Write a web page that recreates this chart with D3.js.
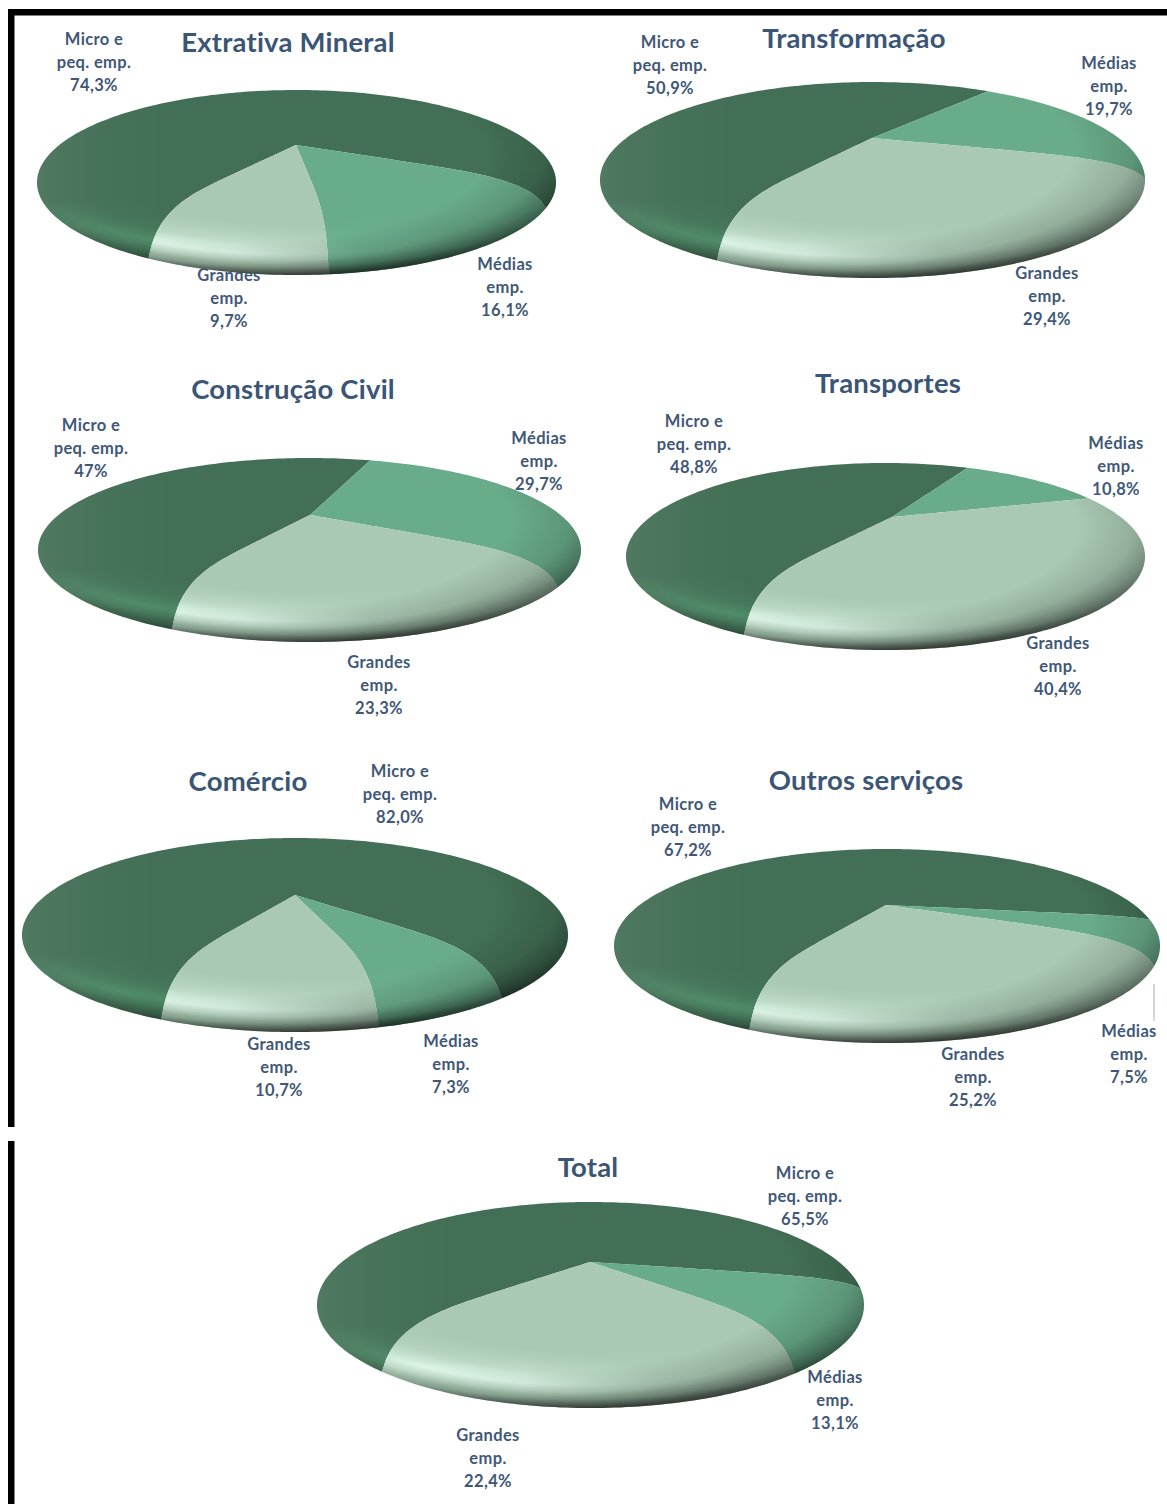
<!DOCTYPE html>
<html lang="pt">
<head>
<meta charset="utf-8">
<title>Participação por porte de empresa</title>
<script src="https://cdn.jsdelivr.net/npm/d3@7/dist/d3.min.js"></script>
<style>
  html, body { margin: 0; background: #fff; }
  svg { display: block; }
  text { font-family: Lato, "Open Sans", sans-serif; font-weight: 700; fill: #3f5878; text-anchor: middle; }
  .title { font-size: 27.5px; fill: #3a5575; letter-spacing: 0.2px; }
  .label { font-size: 16.5px; letter-spacing: 0.35px; }
</style>
</head>
<body>
<svg id="chart" width="1167" height="1504"></svg>
<script>
// Sector titles and the share labels printed beside each pie
const sectors = ["Extrativa Mineral", "Transformação", "Construção Civil", "Transportes", "Comércio", "Outros serviços", "Total"];
const microLabels = ["74,3%", "50,9%", "47%", "48,8%", "82,0%", "67,2%", "65,5%"];
const mediasLabels = ["16,1%", "19,7%", "29,7%", "10,8%", "7,3%", "7,5%", "13,1%"];
const grandesLabels = ["9,7%", "29,4%", "23,3%", "40,4%", "10,7%", "25,2%", "22,4%"];
const sizeNames = [["Micro e", "peq. emp."], ["Médias", "emp."], ["Grandes", "emp."]];

// Layout of each panel: disc bounds, apex, rotation of the first slice, text anchors
const panels = [
  { x0: 37,  x1: 556,  top: 90,   bottom: 275,  ax: 296, ay: 145,  start: -151,   title: [288, 42],  micro: [94, 39],   medias: [505, 264],  grandes: [229, 275], behind: true },
  { x0: 600, x1: 1145, top: 82,   bottom: 278,  ax: 872, ay: 138,  start: -152,   title: [854, 38],  micro: [670, 42],  medias: [1109, 63],  grandes: [1047, 273] },
  { x0: 38,  x1: 581,  top: 458,  bottom: 642,  ax: 310, ay: 515,  start: -154,   title: [293, 389], micro: [91, 425],  medias: [539, 438],  grandes: [379, 662] },
  { x0: 626, x1: 1145, top: 463,  bottom: 650,  ax: 892, ay: 517,  start: -153,   title: [888, 383], micro: [694, 421], medias: [1116, 443], grandes: [1058, 643] },
  { x0: 22,  x1: 568,  top: 838,  bottom: 1032, ax: 295, ay: 895,  start: -156,   title: [248, 781], micro: [400, 771], medias: [451, 1041], grandes: [279, 1044] },
  { x0: 614, x1: 1160, top: 849,  bottom: 1043, ax: 886, ay: 905,  start: -155.5, title: [866, 780], micro: [688, 804], medias: [1129, 1031], grandes: [973, 1054] },
  { x0: 317, x1: 864,  top: 1202, bottom: 1408, ax: 590, ay: 1262, start: -139.5, title: [588, 1167], micro: [805, 1173], medias: [835, 1377], grandes: [488, 1435] }
];

const sliceColors = ["#426f55", "#69ac8a", "#a9c9b3"];
const glowStrength = [0.3, 0.6, 1];   // how strongly the front highlight shows on each slice
const lineStep = 23;
const droop = 20;            // vertical offset between the apex and the plane of the rim

const svg = d3.select("#chart");
const defs = svg.append("defs");
const toNumber = s => parseFloat(s.replace(",", "."));

function addRadial(id, cx, cy, r, stops) {
  const g = defs.append("radialGradient").attr("id", id)
    .attr("cx", cx).attr("cy", cy).attr("r", r)
    .attr("fx", cx).attr("fy", cy);
  stops.forEach(([o, c, a]) => g.append("stop").attr("offset", o).attr("stop-color", c).attr("stop-opacity", a));
}
function addLinear(id, vertical, stops) {
  const g = defs.append("linearGradient").attr("id", id)
    .attr("x1", 0).attr("y1", 0).attr("x2", vertical ? 0 : 1).attr("y2", vertical ? 1 : 0);
  stops.forEach(([o, c, a]) => g.append("stop").attr("offset", o).attr("stop-color", c).attr("stop-opacity", a));
}

// Dark lip around the lower rim, a broad falloff to the lower right, a pale band inside the front edge
addRadial("rimShade", "48%", "38%", "62%", [[0.87, "#000", 0], [0.93, "#000", 0.08], [0.97, "#000", 0.32], [1, "#000", 0.5]]);
addRadial("cornerShade", "38%", "34%", "68%", [[0.72, "#000", 0], [0.88, "#000", 0.13], [1, "#000", 0.42]]);
addRadial("rimGlow", "48%", "38%", "62%", [[0.55, "#dcffe9", 0], [0.72, "#dcffe9", 0.34], [0.82, "#dcffe9", 0.85], [0.88, "#dcffe9", 0.38], [0.92, "#dcffe9", 0]]);
addLinear("glowAcross", false, [[0, "#fff", 1], [0.38, "#fff", 1], [0.62, "#fff", 0.2], [0.8, "#fff", 0]]);
addLinear("glowDown", true, [[0.6, "#fff", 0], [0.8, "#fff", 1]]);
addLinear("leftLight", false, [[0, "#fff", 0.07], [0.14, "#fff", 0.02], [0.25, "#fff", 0]]);
defs.append("mask").attr("id", "glowDownMask").attr("maskContentUnits", "objectBoundingBox")
  .append("rect").attr("width", 1).attr("height", 1).attr("fill", "url(#glowDown)");
defs.append("mask").attr("id", "glowMask").attr("maskContentUnits", "objectBoundingBox")
  .append("rect").attr("width", 1).attr("height", 1).attr("fill", "url(#glowAcross)").attr("mask", "url(#glowDownMask)");

const pieGen = d3.pie().sort(null);
const lineGen = d3.line().x(d => d[0]).y(d => d[1]);

// Screen position of the rim point at a given pie angle, under a perspective tilt
function rimProjector(p) {
  const cx = (p.x0 + p.x1) / 2;
  const E = (p.x1 - p.x0) / 2;
  const d1 = p.ay + droop - p.top, d2 = p.bottom - p.ay - droop;
  const k = (d2 - d1) / (d2 + d1);
  const S = d1 * (1 + k);
  const A = E * Math.sqrt(1 - k * k);
  return a => {
    const u = Math.sin(a), v = -Math.cos(a);
    const w = 1 - k * v;
    return [cx + A * u / w, p.ay + droop + S * v / w];
  };
}

// Radius from apex to rim: straight near the apex, falling away sharply at the front edge
function radiusPoints(p, rim) {
  const dx = rim[0] - p.ax, dy = rim[1] - p.ay;
  const bend = Math.max(0, Math.min(1, dy / 30));
  return d3.range(0, 1.0001, 0.02).map(t => {
    const fall = (1 - bend) * t + bend * (0.6 * t + 0.3 * Math.pow(t, 8) + 0.1 * Math.pow(t, 40));
    return [p.ax + dx * t, p.ay + dy * fall];
  });
}

function wedgePoints(p, rimAt, a0, a1) {
  const n = Math.max(2, Math.ceil(Math.abs(a1 - a0) / 0.02));
  const arc = d3.range(0, n + 1).map(i => rimAt(a0 + (a1 - a0) * i / n));
  return [...radiusPoints(p, arc[0]), ...arc, ...radiusPoints(p, arc[n]).reverse()];
}

function drawLabel(g, anchor, lines) {
  g.selectAll(null).data(lines).join("text")
    .attr("class", "label")
    .attr("x", anchor[0])
    .attr("y", (d, i) => anchor[1] + i * lineStep)
    .attr("dy", "0.36em")
    .text(d => d);
}

const under = svg.append("g");
const pies = svg.append("g");
const over = svg.append("g");

panels.forEach((p, i) => {
  const values = [toNumber(microLabels[i]), toNumber(mediasLabels[i]), toNumber(grandesLabels[i])];
  const start = p.start * Math.PI / 180;
  const arcs = pieGen.startAngle(start).endAngle(start + 2 * Math.PI)(values);
  const rimAt = rimProjector(p);
  const wedgePath = d => lineGen(wedgePoints(p, rimAt, d.startAngle, d.endAngle)) + "Z";

  const g = pies.append("g").style("isolation", "isolate");
  g.selectAll("path.slice").data(arcs).join("path")
    .attr("class", "slice")
    .attr("fill", (d, j) => sliceColors[j])
    .attr("d", wedgePath);

  const outline = lineGen(d3.range(0, 360, 1).map(a => rimAt(a * Math.PI / 180))) + "Z";
  g.append("path").attr("d", outline).attr("fill", "url(#leftLight)");

  // Front highlight, one pass per slice so that each takes its own strength
  arcs.forEach((d, j) => {
    const id = `slice-clip-${i}-${j}`;
    defs.append("clipPath").attr("id", id).append("path").attr("d", wedgePath(d));
    g.append("g").attr("clip-path", `url(#${id})`)
      .style("mix-blend-mode", "overlay")
      .style("opacity", glowStrength[j])
      .append("path").attr("d", outline).attr("fill", "url(#rimGlow)").attr("mask", "url(#glowMask)");
  });

  g.append("path").attr("d", outline).attr("fill", "url(#cornerShade)");
  g.append("path").attr("d", outline).attr("fill", "url(#rimShade)");

  over.append("text").attr("class", "title").attr("x", p.title[0]).attr("y", p.title[1]).attr("dy", "0.36em").text(sectors[i]);
  drawLabel(over, p.micro, [...sizeNames[0], microLabels[i]]);
  drawLabel(over, p.medias, [...sizeNames[1], mediasLabels[i]]);
  drawLabel(p.behind ? under : over, p.grandes, [...sizeNames[2], grandesLabels[i]]);
});

// Leader line of the small "Médias" slice in the services pie
over.append("line").attr("x1", 1154).attr("x2", 1154).attr("y1", 984).attr("y2", 1021)
  .attr("stroke", "#a4abba").attr("stroke-width", 1);

// Page frame: a black rule along the top and a broken rule down the left
const frame = svg.append("g").attr("fill", "#000");
frame.append("rect").attr("x", 8).attr("y", 9).attr("width", 1159).attr("height", 6.5);
frame.append("rect").attr("x", 8).attr("y", 9).attr("width", 6.5).attr("height", 1118);
frame.append("rect").attr("x", 8).attr("y", 1141).attr("width", 6.5).attr("height", 363);
</script>
</body>
</html>
